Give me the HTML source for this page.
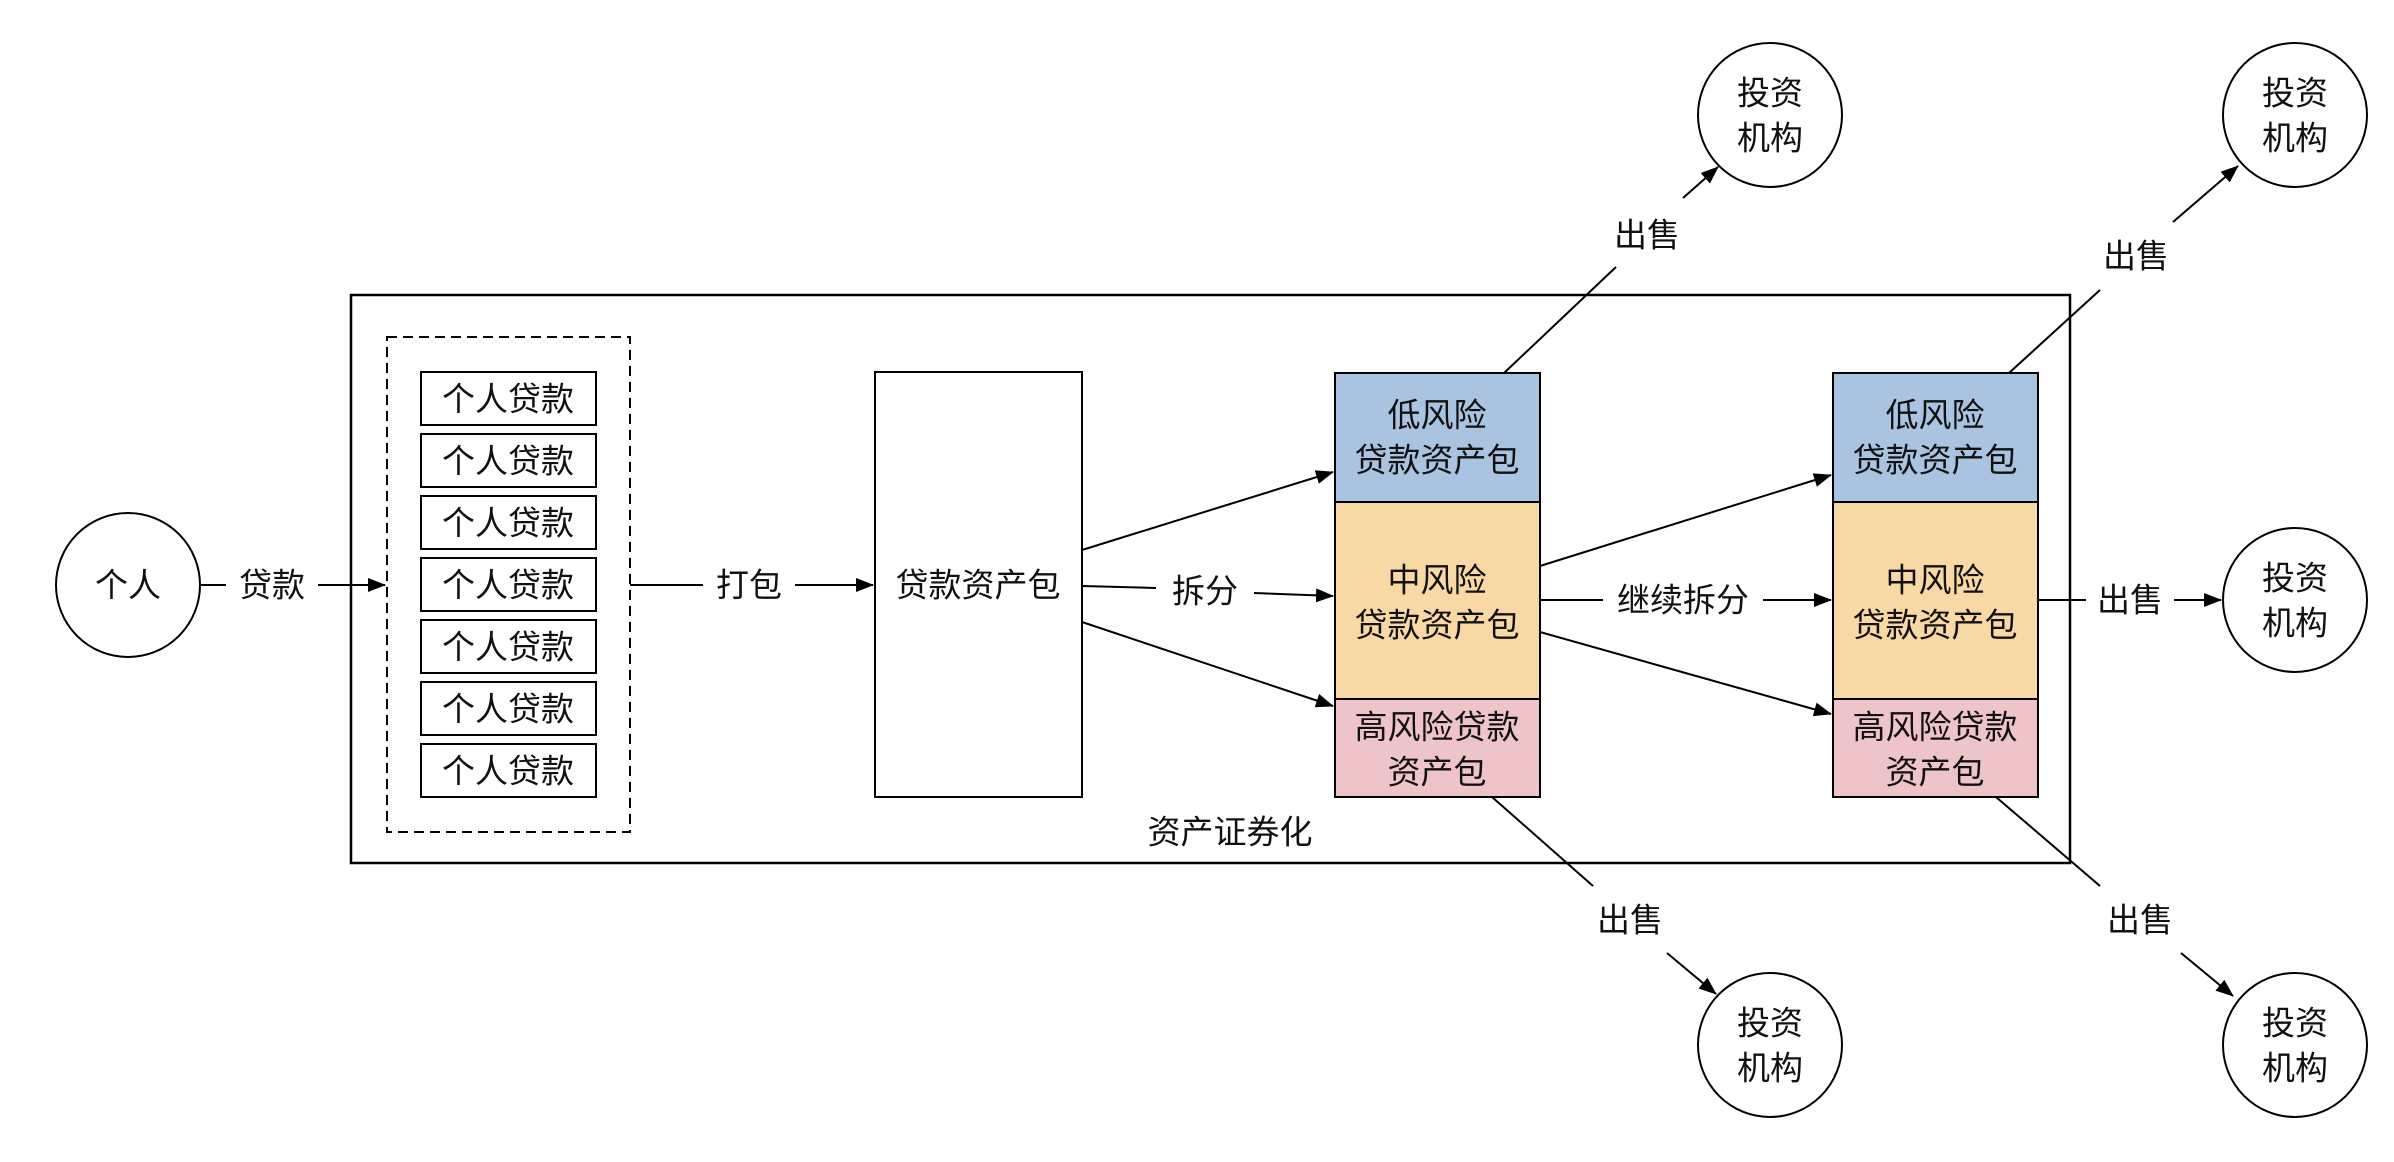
<!DOCTYPE html>
<html><head><meta charset="utf-8"><style>
html,body{margin:0;padding:0;background:#fff;}
svg{display:block;}
text{font-family:"Liberation Sans","Noto Sans CJK SC",sans-serif;font-size:33px;fill:#111;text-anchor:middle;dominant-baseline:central;}
</style></head><body>
<svg width="2394" height="1162" viewBox="0 0 2394 1162" xmlns="http://www.w3.org/2000/svg">
<defs>
<marker id="b" markerWidth="18" markerHeight="14" refX="17" refY="7" orient="auto" markerUnits="userSpaceOnUse" viewBox="0 0 18 14"><path d="M0,0 L18,7 L0,14 z" fill="#000"/></marker></defs>
<g stroke="#000" stroke-width="2" fill="none">
<rect x="351" y="295" width="1719" height="568" stroke-width="2.5"/>
<rect x="387" y="337" width="243" height="495" stroke-dasharray="10,6"/>
<rect x="875" y="372" width="207" height="425" fill="#fff"/>
<circle cx="128" cy="585" r="72"/>
<circle cx="1770" cy="115" r="72"/>
<circle cx="2295" cy="115" r="72"/>
<circle cx="2295" cy="600" r="72"/>
<circle cx="1770" cy="1045" r="72"/>
<circle cx="2295" cy="1045" r="72"/>
</g>
<g stroke="#000" stroke-width="2">
<rect x="421" y="372" width="175" height="53" fill="#fff"/>
<rect x="421" y="434" width="175" height="53" fill="#fff"/>
<rect x="421" y="496" width="175" height="53" fill="#fff"/>
<rect x="421" y="558" width="175" height="53" fill="#fff"/>
<rect x="421" y="620" width="175" height="53" fill="#fff"/>
<rect x="421" y="682" width="175" height="53" fill="#fff"/>
<rect x="421" y="744" width="175" height="53" fill="#fff"/>
<rect x="1335" y="373" width="205" height="129" fill="#a9c3e1"/>
<rect x="1335" y="502" width="205" height="197" fill="#f8d9a5"/>
<rect x="1335" y="699" width="205" height="98" fill="#eec4c9"/>
<rect x="1833" y="373" width="205" height="129" fill="#a9c3e1"/>
<rect x="1833" y="502" width="205" height="197" fill="#f8d9a5"/>
<rect x="1833" y="699" width="205" height="98" fill="#eec4c9"/>
</g>
<g stroke="#000" stroke-width="2" fill="none">
<line x1="200" y1="585" x2="226" y2="585"/>
<line x1="318" y1="585" x2="385" y2="585" marker-end="url(#b)"/>
<line x1="630" y1="585" x2="703" y2="585"/>
<line x1="795" y1="585" x2="873" y2="585" marker-end="url(#b)"/>
<line x1="1082" y1="550" x2="1333" y2="472" marker-end="url(#b)"/>
<line x1="1082" y1="586" x2="1156" y2="588"/>
<line x1="1254" y1="593" x2="1333" y2="596" marker-end="url(#b)"/>
<line x1="1082" y1="622" x2="1333" y2="706" marker-end="url(#b)"/>
<line x1="1540" y1="566" x2="1831" y2="475" marker-end="url(#b)"/>
<line x1="1540" y1="600" x2="1603" y2="600"/>
<line x1="1763" y1="600" x2="1831" y2="600" marker-end="url(#b)"/>
<line x1="1540" y1="632" x2="1831" y2="714" marker-end="url(#b)"/>
<line x1="2038" y1="600" x2="2086" y2="600"/>
<line x1="2174" y1="600" x2="2221" y2="600" marker-end="url(#b)"/>
<line x1="1504" y1="373" x2="1616" y2="267"/>
<line x1="1683" y1="198" x2="1718" y2="167" marker-end="url(#b)"/>
<line x1="2009" y1="373" x2="2100" y2="290"/>
<line x1="2173" y1="222" x2="2238" y2="166" marker-end="url(#b)"/>
<line x1="1492" y1="797" x2="1593" y2="886"/>
<line x1="1667" y1="953" x2="1716" y2="994" marker-end="url(#b)"/>
<line x1="1996" y1="797" x2="2100" y2="886"/>
<line x1="2181" y1="953" x2="2233" y2="996" marker-end="url(#b)"/>
</g>
<text x="128" y="585">个人</text>
<text x="272" y="585">贷款</text>
<text x="508" y="399">个人贷款</text>
<text x="508" y="461">个人贷款</text>
<text x="508" y="523">个人贷款</text>
<text x="508" y="585">个人贷款</text>
<text x="508" y="647">个人贷款</text>
<text x="508" y="709">个人贷款</text>
<text x="508" y="771">个人贷款</text>
<text x="749" y="585">打包</text>
<text x="978" y="585">贷款资产包</text>
<text x="1205" y="591">拆分</text>
<text x="1683" y="600">继续拆分</text>
<text x="2130" y="600">出售</text>
<text x="1647" y="235">出售</text>
<text x="2136" y="256">出售</text>
<text x="1630" y="920">出售</text>
<text x="2140" y="920">出售</text>
<text x="1230" y="832">资产证券化</text>
<text x="1437" y="415">低风险</text><text x="1437" y="460">贷款资产包</text>
<text x="1437" y="580">中风险</text><text x="1437" y="625">贷款资产包</text>
<text x="1437" y="727">高风险贷款</text><text x="1437" y="772">资产包</text>
<text x="1935" y="415">低风险</text><text x="1935" y="460">贷款资产包</text>
<text x="1935" y="580">中风险</text><text x="1935" y="625">贷款资产包</text>
<text x="1935" y="727">高风险贷款</text><text x="1935" y="772">资产包</text>
<text x="1770" y="93">投资</text><text x="1770" y="138">机构</text>
<text x="2295" y="93">投资</text><text x="2295" y="138">机构</text>
<text x="2295" y="578">投资</text><text x="2295" y="623">机构</text>
<text x="1770" y="1023">投资</text><text x="1770" y="1068">机构</text>
<text x="2295" y="1023">投资</text><text x="2295" y="1068">机构</text>
</svg>
</body></html>
